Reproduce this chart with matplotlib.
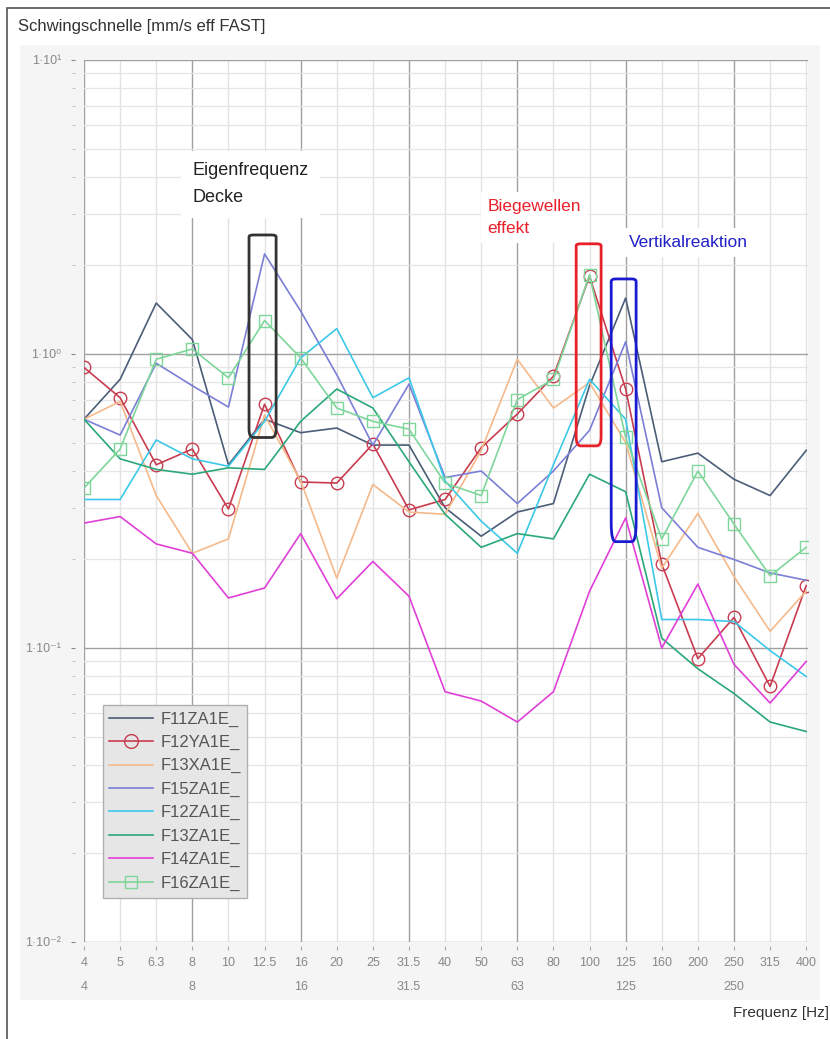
import numpy as np
import matplotlib
matplotlib.use("Agg")
import matplotlib.pyplot as plt
from matplotlib.patches import Rectangle, FancyBboxPatch

plt.rcParams['font.family'] = ['Liberation Sans', 'DejaVu Sans']

# third-octave band centre frequencies
freqs = ["4", "5", "6.3", "8", "10", "12.5", "16", "20", "25", "31.5", "40",
         "50", "63", "80", "100", "125", "160", "200", "250", "315", "400"]
octave_labels = ["4", "8", "16", "31.5", "63", "125", "250"]

# velocity levels per channel [mm/s eff FAST]
f11za = [0.60, 0.82, 1.49, 1.12, 0.42, 0.60, 0.54, 0.56, 0.49, 0.49, 0.30,
         0.24, 0.29, 0.31, 0.78, 1.55, 0.43, 0.46, 0.375, 0.33, 0.47]
f12ya = [0.90, 0.71, 0.42, 0.475, 0.297, 0.675, 0.367, 0.364, 0.494, 0.295, 0.32,
         0.48, 0.625, 0.84, 1.84, 0.76, 0.193, 0.092, 0.127, 0.074, 0.163]
f13xa = [0.60, 0.69, 0.33, 0.21, 0.235, 0.62, 0.37, 0.173, 0.36, 0.29, 0.285,
         0.47, 0.96, 0.655, 0.80, 0.50, 0.187, 0.287, 0.175, 0.114, 0.156]
f15za = [0.60, 0.53, 0.93, 0.78, 0.66, 2.19, 1.40, 0.85, 0.49, 0.79, 0.38,
         0.40, 0.31, 0.40, 0.55, 1.10, 0.30, 0.22, 0.20, 0.18, 0.17]
f12za = [0.32, 0.32, 0.51, 0.44, 0.415, 0.59, 0.97, 1.22, 0.71, 0.83, 0.37,
         0.27, 0.21, 0.42, 0.82, 0.60, 0.125, 0.125, 0.123, 0.098, 0.08]
f13za = [0.60, 0.44, 0.405, 0.39, 0.41, 0.405, 0.59, 0.76, 0.655, 0.43, 0.285,
         0.22, 0.245, 0.235, 0.39, 0.34, 0.108, 0.085, 0.07, 0.056, 0.052]
f14za = [0.266, 0.28, 0.226, 0.21, 0.148, 0.16, 0.245, 0.147, 0.197, 0.15, 0.071,
         0.066, 0.056, 0.071, 0.156, 0.277, 0.10, 0.165, 0.088, 0.065, 0.09]
f16za = [0.35, 0.475, 0.96, 1.04, 0.83, 1.30, 0.97, 0.655, 0.59, 0.555, 0.364,
         0.33, 0.70, 0.82, 1.86, 0.52, 0.235, 0.40, 0.264, 0.176, 0.22]

x = np.arange(len(freqs))

fig = plt.figure(figsize=(8.3, 10.39), dpi=100)

# outer frame and grey panel behind the axis area
W, H = 830.0, 1039.0
fig.patches.append(Rectangle((7 / W, -0.01), 1.2, 1.01 - 8 / H, transform=fig.transFigure,
                             facecolor='white', edgecolor='#555555', lw=1.2, zorder=-2))
fig.patches.append(Rectangle((20 / W, 1 - 1000 / H), 800 / W, 955 / H, transform=fig.transFigure,
                             facecolor='#f5f5f5', edgecolor='none', zorder=-1))

ax = fig.add_axes([84 / W, 1 - 942 / H, 724 / W, 882 / H])
ax.set_zorder(1)
ax.set_facecolor('white')
ax.set_yscale('log')
ax.set_ylim(0.01, 10)
ax.set_xlim(0, 20.05)

# grid: octave bands and decades darker
for i, f in enumerate(freqs):
    major = f in octave_labels
    ax.axvline(i, color='#a0a0a0' if major else '#e2e2e2', lw=1.0, zorder=1)
for dec in [0.01, 0.1, 1, 10]:
    ax.axhline(dec, color='#a0a0a0', lw=1.0, zorder=1)
for dec in [0.01, 0.1, 1]:
    for m in range(2, 10):
        ax.axhline(dec * m, color='#e6e6e6', lw=0.9, zorder=1)

# ticks sit a little away from the plot edge
for s in ax.spines.values():
    s.set_visible(False)
ax.spines['left'].set_visible(True)
ax.spines['left'].set_color('none')
ax.spines['left'].set_position(('outward', 6.5))
ax.spines['bottom'].set_visible(True)
ax.spines['bottom'].set_color('none')
ax.spines['bottom'].set_position(('outward', 3))

ax.set_yticks([0.01, 0.1, 1, 10])
ax.set_yticklabels(["1·10⁻²", "1·10⁻¹", "1·10⁰", "1·10¹"], color='#888888', fontsize=9)
ax.set_yticks([d * m for d in [0.01, 0.1, 1] for m in range(2, 10)], minor=True)
ax.set_yticklabels([], minor=True)
ax.tick_params(axis='y', which='major', length=3, color='#888888', pad=7)
ax.tick_params(axis='y', which='minor', length=2.5, color='#bbbbbb')

ax.set_xticks(x)
ax.set_xticklabels(freqs, color='#888888', fontsize=9)
ax.tick_params(axis='x', length=3, color='#aaaaaa', pad=5)
for i, f in enumerate(freqs):
    if f in octave_labels:
        ax.text(i, -0.044, f, transform=ax.get_xaxis_transform(), ha='center', va='top',
                color='#888888', fontsize=9)

series = [
    ("F11ZA1E_", f11za, '#4b5d78', None),
    ("F12YA1E_", f12ya, '#c83c50', 'o'),
    ("F13XA1E_", f13xa, '#f5b98a', None),
    ("F15ZA1E_", f15za, '#7b7fd6', None),
    ("F12ZA1E_", f12za, '#3cc8e8', None),
    ("F13ZA1E_", f13za, '#2aa878', None),
    ("F14ZA1E_", f14za, '#e040d8', None),
    ("F16ZA1E_", f16za, '#7ed69a', 's'),
]
for name, vals, col, mk in series:
    ax.plot(x, vals, color=col, lw=1.2, marker=mk, markersize=9 if mk == 'o' else 8,
            markerfacecolor='none', markeredgecolor=col, markeredgewidth=1.0,
            label=name, zorder=3)

# highlighted resonance regions
boxes = [((4.57, 0.52), 0.75, 2.54, '#333333'),
         ((13.63, 0.487), 0.69, 2.37, '#e8202a'),
         ((14.6, 0.23), 0.69, 1.8, '#1a1ad0')]
for (x0, y0), w, y1, col in boxes:
    ax.add_patch(FancyBboxPatch((x0, y0), w, y1 - y0, boxstyle="round,pad=0,rounding_size=0.12",
                                facecolor='none', edgecolor=col, lw=2.0, zorder=7,
                                mutation_aspect=0.3))

ax.text(3.0, 3.78, "Eigenfrequenz\nDecke", color='#222222', fontsize=13, linespacing=1.8,
        va='center', ha='left', zorder=6,
        bbox=dict(facecolor='white', edgecolor='none', pad=8))
ax.text(11.18, 2.91, "Biegewellen\neffekt", color='#e8202a', fontsize=12.5, linespacing=1.6,
        va='center', ha='left', zorder=6,
        bbox=dict(facecolor='white', edgecolor='none', pad=5))
ax.text(15.1, 2.4, "Vertikalreaktion", color='#2020c8', fontsize=12.5,
        va='center', ha='left', zorder=6,
        bbox=dict(facecolor='white', edgecolor='none', pad=5))

leg = ax.legend(loc='upper left', bbox_to_anchor=(0.026, 0.269), borderaxespad=0,
                fontsize=12, handlelength=2.6, labelspacing=0.5, handletextpad=0.45,
                frameon=True, fancybox=False, borderpad=0.4, markerscale=1.1)
leg.get_frame().set_facecolor('#e6e6e6')
leg.get_frame().set_edgecolor('#b0b0b0')
leg.get_frame().set_alpha(1)
for t in leg.get_texts():
    t.set_color('#555555')
leg.set_zorder(8)

fig.text(18 / W, 1 - 27 / H, "Schwingschnelle [mm/s eff FAST]", fontsize=12,
         color='#333333', va='center', ha='left')
fig.text(829 / W, 1 - 1013 / H, "Frequenz [Hz]", fontsize=11,
         color='#333333', va='center', ha='right')

fig.savefig("out.png", dpi=100)
